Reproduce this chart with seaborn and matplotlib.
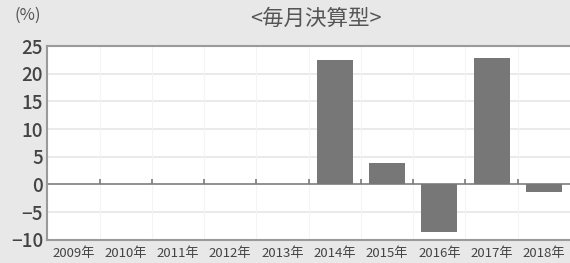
import numpy as np
import pandas as pd
import matplotlib
matplotlib.use("Agg")
import matplotlib.pyplot as plt
import seaborn as sns

years = ["2009年", "2010年", "2011年", "2012年", "2013年",
         "2014年", "2015年", "2016年", "2017年", "2018年"]
returns = [0, 0, 0, 0, 0, 22.5, 3.9, -8.6, 22.8, -1.4]
yticks = [-10, -5, 0, 5, 10, 15, 20, 25]
title = "<毎月決算型>"
unit = "(%)"

df = pd.DataFrame({"year": years, "ret": returns})

sns.set_theme(style="white")
plt.rcParams["font.family"] = ["Noto Sans CJK JP", "DejaVu Sans"]

bg = "#e8e8e8"
fig = plt.figure(figsize=(5.7, 2.63), dpi=100, facecolor=bg)
ax = fig.add_axes([0.083, 0.088, 0.917, 0.737])
ax.set_facecolor("white")

sns.barplot(data=df, x="year", y="ret", color="#777777", width=0.69,
            saturation=1, linewidth=0, ax=ax, zorder=3)

ax.set_ylim(-10, 25)
ax.set_yticks(yticks)
ax.set_xlim(-0.5, len(years) - 0.5)
ax.yaxis.grid(True, color="#e6e6e6", linewidth=1.2, zorder=0)
ax.axhline(0, color="#8a8a8a", linewidth=1.3, zorder=2)

# small ticks on the zero line between years
bounds = np.arange(len(years) - 1) + 0.5
ax.vlines(bounds, 0, 1.0, color="#7a7a7a", linewidth=1.2, zorder=2)
ax.vlines(bounds, -10, 25, color="#f4f4f4", linewidth=0.8, zorder=1)

for side in ["left", "top", "bottom"]:
    ax.spines[side].set_color("#9a9a9a")
    ax.spines[side].set_linewidth(1.5)
ax.spines["right"].set_visible(False)

ax.set_xlabel("")
ax.set_ylabel("")
ax.tick_params(axis="y", labelsize=13.5, labelcolor="#444444", length=0, pad=3)
ax.tick_params(axis="x", labelsize=9.5, labelcolor="#444444", length=0, pad=5)
for lbl in ax.get_yticklabels():
    lbl.set_fontweight("medium")

fig.text(0.555, 0.93, title, ha="center", va="center", fontsize=15.5, color="#555555")
fig.text(0.048, 0.94, unit, ha="center", va="center", fontsize=12, color="#555555")

fig.savefig("out.png", dpi=100, facecolor=bg)
